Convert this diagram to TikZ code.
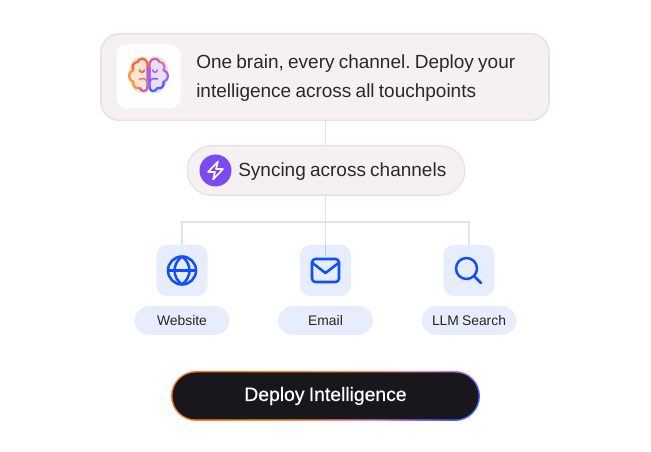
\documentclass[tikz,border=0pt]{standalone}
\usepackage{fontspec}
\setmainfont[WordSpace=0.8]{Liberation Sans}
\newfontfamily\btnfont[FakeBold=0.6,WordSpace=0.8]{Liberation Sans}
\usetikzlibrary{backgrounds}
\definecolor{inkdark}{HTML}{2B282B}
\definecolor{cardfill}{HTML}{F5F1F2}
\definecolor{cardline}{HTML}{E8E2E3}
\definecolor{wirecol}{HTML}{E4E2E6}
\definecolor{tilefill}{HTML}{E8EDFE}
\definecolor{iconblue}{HTML}{0F4FFF}
\definecolor{boltpurple}{HTML}{7A4BF0}
\definecolor{btnfill}{HTML}{18171B}
\definecolor{brainred}{HTML}{FA5F45}
\definecolor{brainorange}{HTML}{FB9040}
\definecolor{brainpurple}{HTML}{A663F0}
\definecolor{brainblue}{HTML}{3F63FB}
\definecolor{edgeorange}{HTML}{FF6A10}
\definecolor{edgepink}{HTML}{E88AC0}
\pgfdeclareverticalshading{btnedge}{100bp}{
  color(0bp)=(brainblue); color(20bp)=(brainblue); color(28bp)=(brainpurple); color(36bp)=(edgepink);
  color(52bp)=(brainorange); color(100bp)=(edgeorange)}
\tikzset{
  wire/.style={draw=wirecol,line width=1.2pt},
  card/.style={draw=cardline,line width=1.2pt,fill=cardfill,rounded corners=14pt,
    minimum width=336pt,minimum height=65pt,inner sep=0pt},
  pill/.style={draw=cardline,line width=1pt,fill=cardfill,rounded corners=18pt,
    minimum width=208pt,minimum height=37pt,inner sep=0pt},
  tile/.style={fill=tilefill,rounded corners=8pt,minimum size=38.5pt,inner sep=0pt},
  tag/.style={fill=tilefill,rounded corners=10.5pt,minimum width=71pt,minimum height=21.5pt,
    inner sep=0pt,font=\fontsize{10.4}{12}\selectfont,text=black!85},
  icon/.style={draw=iconblue,line width=1.9pt,line cap=round,line join=round},
  lobe/.style={line width=1.7pt,line cap=round,line join=round},
  crease/.style={line width=1.2pt,line cap=round,line join=round},
}
\begin{document}
\frenchspacing
\begin{tikzpicture}[x=0.75pt,y=-0.75pt]
  \useasboundingbox (0,0) rectangle (651,452);

  % top card
  \node[card] (brainCard) at (325,77) {};
  \node[fill=white,rounded corners=8pt,minimum size=48pt,inner sep=0pt] (brainTile) at (148.5,76.5) {};
  \node[anchor=west,text=inkdark,align=left,font=\fontsize{14.25}{21.75}\selectfont,inner sep=0pt]
    (brainText) at (196,78) {One brain, every channel. Deploy your\\intelligence across all touchpoints};

  % brain icon
  \begin{scope}[shift={(148.5,76)}]
    \fill[brainorange!24] (-1,-19) .. controls (-14,-23) and (-21,-12) .. (-20,0)
      .. controls (-19,12) and (-10,21) .. (-1,16) -- cycle;
    \fill[brainpurple!22] (1,-19) .. controls (14,-23) and (21,-12) .. (20,0)
      .. controls (19,12) and (10,21) .. (1,16) -- cycle;
    \draw[lobe,brainred] (-1,-8) -- (-1,-13) .. controls (-3,-19) and (-10,-18) .. (-11,-14)
      .. controls (-16,-14) and (-17,-8) .. (-15,-6);
    \draw[lobe,brainorange] (-15,-6) .. controls (-21,-4) and (-21,4) .. (-15,6)
      .. controls (-16,11) and (-12,13) .. (-9,12);
    \draw[lobe,brainpurple!60!brainred] (-9,12) .. controls (-7,16) and (-1,17) .. (-1,10) -- (-1,-8);
    \draw[lobe,brainred!60!brainpurple] (1,-8) -- (1,-13) .. controls (3,-19) and (10,-18) .. (11,-14);
    \draw[lobe,brainorange!50!brainpurple] (11,-14) .. controls (16,-14) and (17,-8) .. (15,-6);
    \draw[lobe,brainpurple] (15,-6) .. controls (21,-4) and (21,4) .. (15,6);
    \draw[lobe,brainblue] (15,6) .. controls (16,11) and (12,13) .. (9,12)
      .. controls (7,16) and (1,17) .. (1,10);
    \draw[lobe,brainpurple] (1,10) -- (1,-8);
    \draw[crease,brainred] (-9,-6) .. controls (-8,-3) and (-5,-3) .. (-4,-6);
    \draw[crease,brainpurple] (9,-6) .. controls (8,-3) and (5,-3) .. (4,-6);
    \draw[crease,brainorange!60!brainpurple] (-1,6) .. controls (-3,2) and (-6,2) .. (-9,3);
    \draw[crease,brainpurple!70!brainblue] (1,6) .. controls (3,2) and (6,2) .. (9,3);
  \end{scope}

  % sync pill
  \node[pill] (syncPill) at (326,170.5) {};
  \node[circle,fill=boltpurple,minimum size=24pt,inner sep=0pt] (boltDisc) at (215.5,170.5) {};
  \draw[white,line width=1.2pt,line join=round] (218,161.5) -- (208,172) -- (215,172) -- (213,179.5)
    -- (223,169) -- (216,169) -- cycle;
  \node[anchor=west,text=inkdark,font=\fontsize{14.25}{18}\selectfont,inner sep=0pt]
    (syncText) at (238,172) {Syncing across channels};

  % channels
  \node[tile] (webTile) at (182,270.5) {};
  \node[tile] (mailTile) at (325.5,270.5) {};
  \node[tile] (searchTile) at (469,270.5) {};
  \node[tag] (webTag) at (182,320.5) {Website};
  \node[tag] (mailTag) at (325.5,320.5) {Email};
  \node[tag] (searchTag) at (469,320.5) {LLM Search};

  \draw[icon] (182,270.5) circle (14);
  \draw[icon] (168,270.5) -- (196,270.5);
  \draw[icon] (182,256.5) .. controls (172,264) and (172,277) .. (182,284.5)
    .. controls (192,277) and (192,264) .. (182,256.5);
  \draw[icon,rounded corners=2.5pt] (312,259) rectangle (339,282);
  \draw[icon] (312.5,263) -- (325.5,273) -- (338.5,263);
  \draw[icon] (466.5,268.5) circle (10.5);
  \draw[icon] (474.5,276.5) -- (481,283);

  % deploy button
  \shade[shading=btnedge,shading angle=40,rounded corners=18.75pt] (171,371) rectangle (480,421);
  \node[fill=btnfill,rounded corners=17.6pt,minimum width=229.5pt,minimum height=35.25pt,inner sep=0pt,
    text=white,font=\fontsize{14.5}{18}\btnfont] (deployBtn) at (325.5,396) {\raisebox{-1.8pt}{Deploy Intelligence}};

  % connectors
  \begin{scope}[on background layer]
    \coordinate (hub) at (325.5,222);
    \draw[wire] (brainCard.south -| hub) -- (syncPill.north -| hub);
    \draw[wire] (syncPill.south -| hub) -- (hub);
    \draw[wire] (webTile.north) |- (hub);
    \draw[wire] (searchTile.north) |- (hub);
    \draw[wire] (hub) -- (mailTile.north);
  \end{scope}
  \draw[wire,draw=tilefill!85!black,line width=0.8pt] (mailTile.north) -- (325.5,258.5);
\end{tikzpicture}
\end{document}
